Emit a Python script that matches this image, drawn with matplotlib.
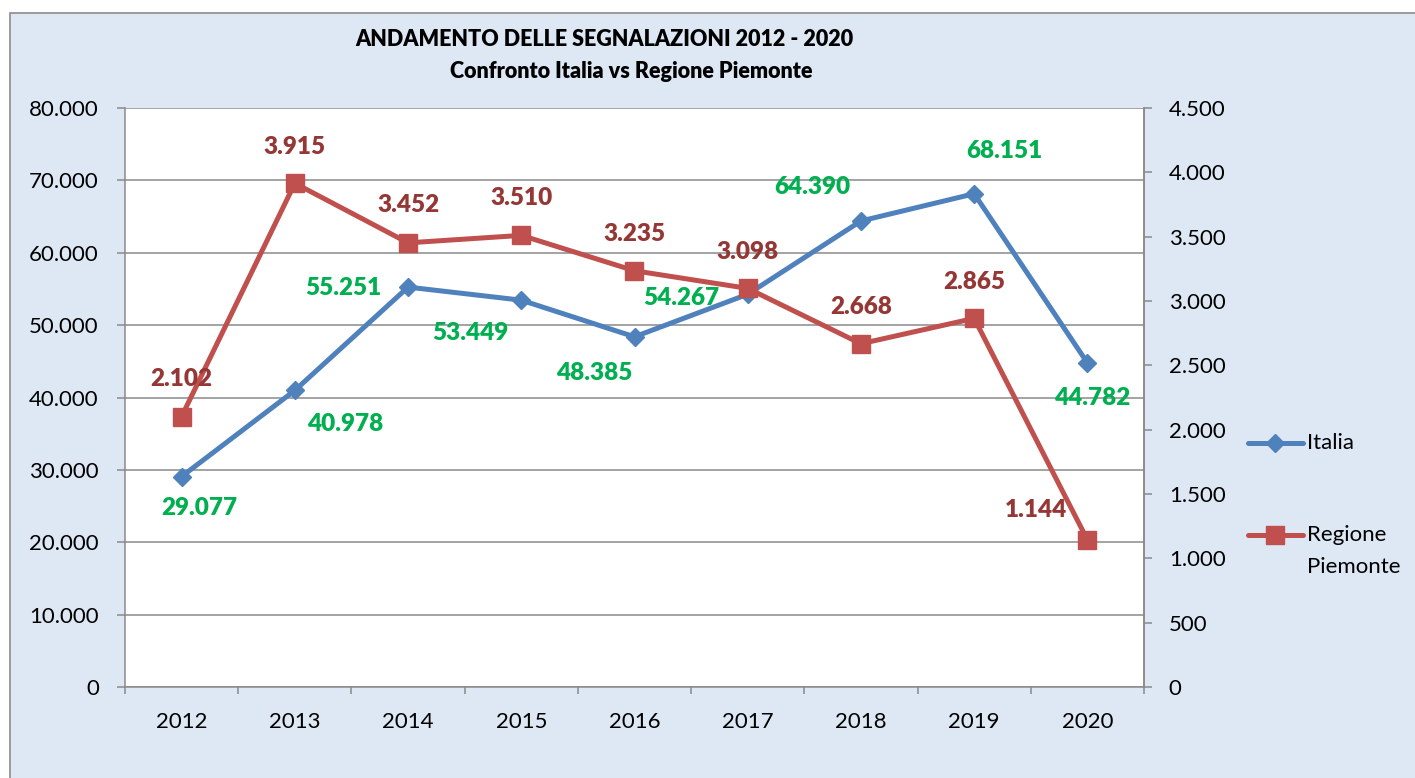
#%% Libraries
import numpy as np
import matplotlib.pyplot as plt
from matplotlib.lines import Line2D
from matplotlib.patches import Rectangle

plt.rcParams['font.family'] = ['Lato', 'DejaVu Sans']

#%% Data
years = ['2012', '2013', '2014', '2015', '2016', '2017', '2018', '2019', '2020']
italia = [29077, 40978, 55251, 53449, 48385, 54267, 64390, 68151, 44782]
piemonte = [2102, 3915, 3452, 3510, 3235, 3098, 2668, 2865, 1144]

left_ticks = list(range(0, 80001, 10000))
right_ticks = list(range(0, 4501, 500))

# label offsets in pixels (dx to the right, dy downwards)
italia_off = [(18, 31), (50, 34), (-65, 1), (-51, 33), (-40, 36),
              (-66, 4), (-49, -34), (30, -43), (5, 35)]
piemonte_off = [(0, -38), (0, -36), (0, -38), (0, -37), (0, -37),
                (0, -36), (0, -37), (0, -36), (-51, -30)]


def fmt_it(v):
    # italian thousands separator
    return f"{v:,.0f}".replace(",", ".")


#%% Style
W, H = 1415, 778
bg_color = '#DEE8F4'
grid_color = '#8A8A8A'
blue = '#4F81BD'
red = '#C0504D'
green_lbl = '#00B050'
red_lbl = '#953735'
tick_font = 16
label_font = 17.5
px = 0.72  # pixel -> points at dpi 100

fig = plt.figure(figsize=(W / 100, H / 100), dpi=100)
fig.patch.set_facecolor('white')
fig.add_artist(Rectangle((10 / W, -0.05), 1.1, 1.05 - 13 / H, transform=fig.transFigure,
                         facecolor=bg_color, edgecolor='#8C8C8C', linewidth=1.2, zorder=0))

ax = fig.add_axes([125 / W, 1 - 687 / H, (1144 - 125) / W, (687 - 108) / H])
ax2 = ax.twinx()
ax.set_facecolor('white')
ax2.patch.set_visible(False)

x = np.arange(len(years))

ax.plot(x, italia, color=blue, lw=3.6, marker='D', ms=9.5, mec=blue, zorder=3)
ax2.plot(x, piemonte, color=red, lw=3.6, marker='s', ms=13.5, mec=red, zorder=3)

ax.set_xlim(-0.5, len(years) - 0.5)
ax.set_ylim(0, 80000)
ax2.set_ylim(0, 4500)

ax.set_yticks(left_ticks)
ax.set_yticklabels([fmt_it(v) for v in left_ticks])
ax2.set_yticks(right_ticks)
ax2.set_yticklabels([fmt_it(v) for v in right_ticks])

ax.set_xticks(np.arange(-0.5, len(years)), labels=[])
ax.set_xticks(x, labels=years, minor=True)

ax.yaxis.grid(True, color=grid_color, lw=1.1)
ax.set_axisbelow(True)

for a in (ax, ax2):
    for s in a.spines.values():
        s.set_color(grid_color)
        s.set_linewidth(1.1)
    a.spines['top'].set_visible(False)
ax2.spines['left'].set_visible(False)
ax2.spines['bottom'].set_visible(False)

ax.tick_params(axis='y', direction='out', length=5.8, width=1.1, color=grid_color,
               labelsize=tick_font, pad=13)
ax2.tick_params(axis='y', direction='out', length=5.8, width=1.1, color=grid_color,
                labelsize=tick_font, pad=12)
ax.tick_params(axis='x', which='major', direction='out', length=5, width=1.1, color=grid_color)
ax.tick_params(axis='x', which='minor', length=0, labelsize=tick_font, pad=18)

# data labels
for xi, v, (dx, dy) in zip(x, italia, italia_off):
    ax2.annotate(fmt_it(v), (xi, v), xycoords=ax.transData,
                 xytext=(dx * px, -dy * px), textcoords='offset points',
                 ha='center', va='center', color=green_lbl,
                 fontsize=label_font, fontweight='heavy', zorder=5)
for xi, v, (dx, dy) in zip(x, piemonte, piemonte_off):
    ax2.annotate(fmt_it(v), (xi, v), xytext=(dx * px, -dy * px), textcoords='offset points',
                 ha='center', va='center', color=red_lbl,
                 fontsize=label_font, fontweight='heavy', zorder=5)

# title
fig.text(604 / W, 1 - 39 / H, 'ANDAMENTO DELLE SEGNALAZIONI 2012 - 2020',
         ha='center', va='center', fontsize=15.5, fontweight='heavy')
fig.text(631 / W, 1 - 71 / H, 'Confronto Italia vs Regione Piemonte',
         ha='center', va='center', fontsize=15.5, fontweight='heavy')

# legend
for (y, col, mk, ms) in [(443, blue, 'D', 9.5), (535, red, 's', 13.5)]:
    fig.add_artist(Line2D([1248 / W, 1303 / W], [1 - y / H] * 2, transform=fig.transFigure,
                          color=col, lw=3.6, solid_capstyle='round'))
    fig.add_artist(Line2D([1275 / W], [1 - y / H], transform=fig.transFigure,
                          color=col, marker=mk, ms=ms, mec=col))
fig.text(1307 / W, 1 - 443 / H, 'Italia', ha='left', va='center', fontsize=tick_font)
fig.text(1307 / W, 1 - 535 / H, 'Regione', ha='left', va='center', fontsize=tick_font)
fig.text(1307 / W, 1 - 567 / H, 'Piemonte', ha='left', va='center', fontsize=tick_font)

plt.savefig('out.png', dpi=100, facecolor=fig.get_facecolor())
